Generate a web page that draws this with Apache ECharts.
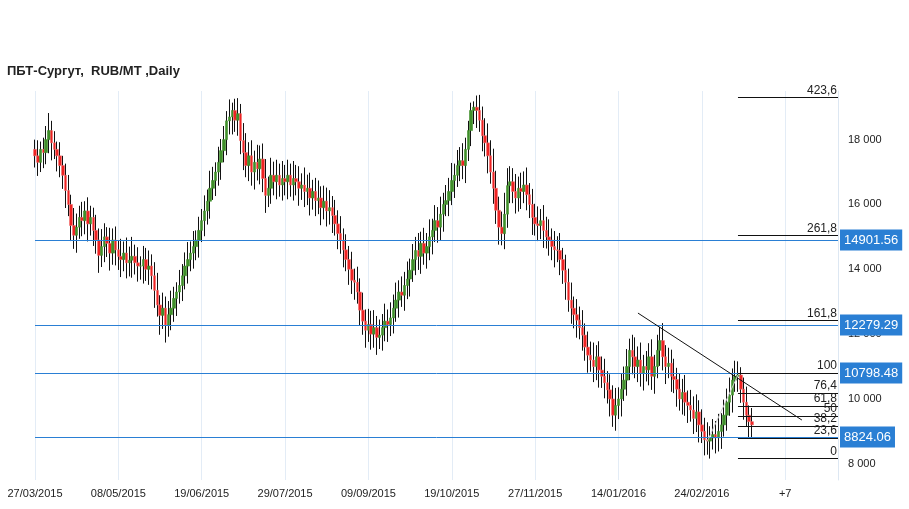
<!DOCTYPE html>
<html lang="en">
<head>
<meta charset="UTF-8" />
<script src="https://cdn.jsdelivr.net/npm/echarts@6/dist/echarts.min.js"></script>
<style>
  body { margin: 0; background: #fff; }
  #container { width: 909px; height: 509px; }
</style>
</head>
<body>
<div id="container"></div>
<script>
// tick labels on the date axis, one every 30 trading days
const dateLabels = ["27/03/2015", "08/05/2015", "19/06/2015", "29/07/2015", "09/09/2015",
  "19/10/2015", "27/11/2015", "14/01/2016", "24/02/2016", "+7"];
const slotCount = 290;

// daily closes (open = previous close)
const closes = [
  17500,17300,17700,17600,18000,18280,17900,17700,17500,17200,16900,
  16430,16000,15350,15050,15300,15600,15500,15800,15400,15600,
  15200,14900,14430,14700,15000,14800,14500,14900,14600,14400,
  14300,14500,14200,14280,14400,14200,14100,14100,14300,14000,
  14100,13800,13350,12900,12580,12800,12280,12600,12800,13100,
  13300,13500,13800,14100,14300,14500,14700,14900,15200,15500,
  15800,16100,16500,16740,17000,17300,17660,18000,18580,18700,
  18900,18600,18800,17970,17600,17200,17500,17000,17300,17100,
  17400,16800,16280,16500,16900,16700,16900,16600,16800,16700,
  16900,16600,16800,16700,16500,16600,16400,16500,16200,16400,
  16120,16200,15900,16100,15800,15900,15660,15400,15100,14900,
  14600,14300,14000,13660,13600,13300,12740,12400,12120,12300,
  12000,12200,11900,11970,12200,12400,12300,12500,12800,13050,
  13300,13200,13500,13700,13970,14300,14580,14400,14800,14500,
  14700,15000,15200,15500,15300,15700,16000,16120,16400,16740,
  16900,17200,17350,17200,17700,18280,18900,19000,18900,18600,
  18120,17900,17500,17000,16500,15820,15300,15100,15700,16580,
  16700,16400,16200,16500,16400,16600,16300,16000,15600,15400,
  15350,15500,15200,15000,14900,14700,14600,14580,14300,13970,
  13600,13050,12800,12600,12430,12200,11970,11600,11350,11200,
  11000,11300,10890,10700,10500,10280,10000,9500,9800,10000,
  10300,10580,11000,11500,11300,11000,11200,10800,11000,10900,
  11300,10700,11000,11500,11800,11300,11000,11100,10700,10600,
  10300,10000,10200,9900,9800,9660,9400,9600,9200,9000,
  8740,8700,8800,8900,8800,9000,9200,9500,9900,10120,
  10580,10700,10740,10300,9900,9500,9300,9200
];
// wick length above / below the body, in units of 60 RUB
const wickUp = [
  5,8,4,6,7,9,5,6,4,7,5, 6,8,5,9,7,6,8,5,7,6, 5,8,6,9,7,5,8,6,7,5,
  9,6,8,7,10,6,8,5,7,6, 8,6,7,9,5,8,6,7,9,6, 5,8,6,7,9,6,8,5,7,6,
  8,6,9,7,5,8,6,7,5,9, 4,6,8,5,9,10,7,8,6,9, 7,8,10,6,9,7,8,6,9,7,
  8,6,9,7,8,6,9,7,8,6, 7,9,6,8,7,9,6,8,7,9, 6,8,7,9,6,8,7,9,6,8,
  7,9,6,8,7,9,6,8,7,9, 6,8,7,9,6,8,7,9,6,8, 7,9,6,8,7,9,6,8,7,9,
  6,8,7,9,6,5,4,3,6,8, 7,9,10,8,12,9,7,8,11,9, 8,7,9,6,8,7,9,6,8,7,
  9,6,8,7,9,6,8,7,9,6, 8,7,9,6,8,7,9,6,8,7, 9,6,8,7,9,6,8,7,9,6,
  8,7,9,6,8,10,7,9,6,8, 7,9,6,8,7,9,6,8,7,9, 6,8,7,9,6,8,7,9,6,8,
  7,9,6,8,7,9,6,8,7,9, 6,8,7,4,6,8,5,7
];
const wickDown = [
  6,7,5,8,6,7,9,5,8,6,7, 9,6,8,7,9,6,8,7,9,6, 8,7,9,6,8,7,9,6,8,7,
  9,6,8,7,9,6,8,7,9,6, 8,7,9,6,10,7,9,6,8,7, 9,6,8,7,9,6,8,7,9,6,
  8,7,9,6,8,7,9,6,8,7, 9,6,8,7,9,6,8,7,9,6, 8,7,9,6,8,7,9,6,8,7,
  9,6,8,7,9,6,8,7,9,6, 8,7,9,6,8,7,9,6,8,7, 9,6,8,7,9,6,8,7,9,6,
  8,7,9,6,8,7,9,6,8,7, 9,6,8,7,9,6,8,7,9,6, 8,7,9,6,8,7,9,6,8,7,
  9,6,8,7,9,6,8,7,9,6, 8,7,9,6,8,7,9,6,8,7, 9,6,8,7,9,6,8,7,9,6,
  8,7,9,6,8,7,9,6,8,7, 9,6,8,7,9,6,8,7,9,6, 8,7,9,6,8,7,9,6,8,7,
  9,6,8,7,9,6,8,7,9,6, 8,7,9,6,8,7,9,6,8,7, 9,6,8,7,9,6,8,7,9,6,
  8,7,9,6,8,7,9,6,8,7, 9,6,8,7,9,6,8,7,9,6, 8,7,9,6,8,7,6,5
];
const wickUnit = 60;

// horizontal support / resistance levels with price tags
const levels = [14901.56, 12279.29, 10798.48, 8824.06];
// fibonacci levels: ratio label and price
const fibNames = ["0", "23,6", "38,2", "50", "61,8", "76,4", "100", "161,8", "261,8", "423,6"];
const fibPrices = [8170, 8790, 9170, 9480, 9790, 10180, 10798, 12420, 15050, 19300];
const fibStart = 253;
// trend line [index, price] ends and the swing line
const trendLine = [[217, 12650], [276, 9350]];
const swingLine = [[242, 8700], [253, 10740]];

const categories = [];
for (let i = 0; i < slotCount; i++) {
  categories.push(i % 30 === 0 ? (dateLabels[i / 30] || "") : String(i));
}

const wicks = [], bodies = [];
closes.forEach((c, i) => {
  const o = i === 0 ? c + 200 : closes[i - 1];
  const top = Math.max(o, c), bot = Math.min(o, c);
  wicks.push([o, c, bot - wickDown[i] * wickUnit, top + wickUp[i] * wickUnit]);
  bodies.push([o, c, bot, top]);
});

const fmt = v => String(v).replace(/\B(?=(\d{3})+(?!\d))/g, " ");

const chart = echarts.init(document.getElementById("container"));
chart.setOption({
  animation: false,
  title: {
    text: "ПБТ-Сургут,  RUB/MT ,Daily",
    left: 2, top: 60,
    textStyle: { fontSize: 13, fontWeight: "bold", color: "#222", fontFamily: "Arial" }
  },
  grid: { left: 35, right: 71, top: 91, bottom: 29 },
  xAxis: {
    type: "category",
    data: categories,
    boundaryGap: false,
    axisLine: { show: false },
    axisTick: { show: false },
    axisLabel: {
      interval: 29, color: "#222", fontSize: 11, fontFamily: "Arial", margin: 8,
      formatter: v => (isNaN(Number(v)) || v === "+7") ? v : ""
    },
    splitLine: { show: true, interval: 29, lineStyle: { color: "#e3ecf6", width: 1 } }
  },
  yAxis: {
    type: "value",
    position: "right",
    min: 7500, max: 19500, interval: 500,
    axisLine: { show: true, lineStyle: { color: "#dde7f2" } },
    axisTick: { show: false },
    splitLine: { show: false },
    axisLabel: {
      color: "#222", fontSize: 11, fontFamily: "Arial", margin: 10,
      formatter: v => (v % 2000 === 0 ? fmt(v) : "")
    }
  },
  series: [
    {
      type: "candlestick",
      data: wicks,
      barWidth: 1,
      itemStyle: { color: "#111", color0: "#111", borderColor: "#111", borderColor0: "#111", borderWidth: 1 },
      z: 2,
      markLine: {
        silent: true, symbol: "none",
        lineStyle: { color: "#2a7fd4", type: "solid", width: 1 },
        label: {
          position: "end", formatter: p => p.value.toFixed(2),
          backgroundColor: "#2a7fd4", color: "#fff", fontSize: 13, fontFamily: "Arial",
          padding: [4, 4], distance: 2
        },
        data: levels.map(v => ({ yAxis: v }))
      }
    },
    {
      type: "candlestick",
      data: bodies,
      barWidth: 3,
      itemStyle: { color: "#3f8f2a", color0: "#ee2222", borderColor: "#3f8f2a", borderColor0: "#f27272", borderWidth: 0.6 },
      z: 3,
      markLine: {
        silent: true, symbol: "none",
        lineStyle: { color: "#111", type: "solid", width: 1 },
        label: {
          position: "insideEndTop", color: "#222", fontSize: 12, fontFamily: "Arial", distance: 1,
          formatter: p => p.name
        },
        data: fibPrices.map((v, k) => [
          { name: fibNames[k], coord: [fibStart, v] },
          { coord: [slotCount - 1, v] }
        ]).concat([
          [{ coord: trendLine[0], label: { show: false } }, { coord: trendLine[1] }],
          [{ coord: swingLine[0], label: { show: false }, lineStyle: { color: "#ccc" } }, { coord: swingLine[1] }]
        ])
      }
    }
  ]
});
</script>
</body>
</html>
